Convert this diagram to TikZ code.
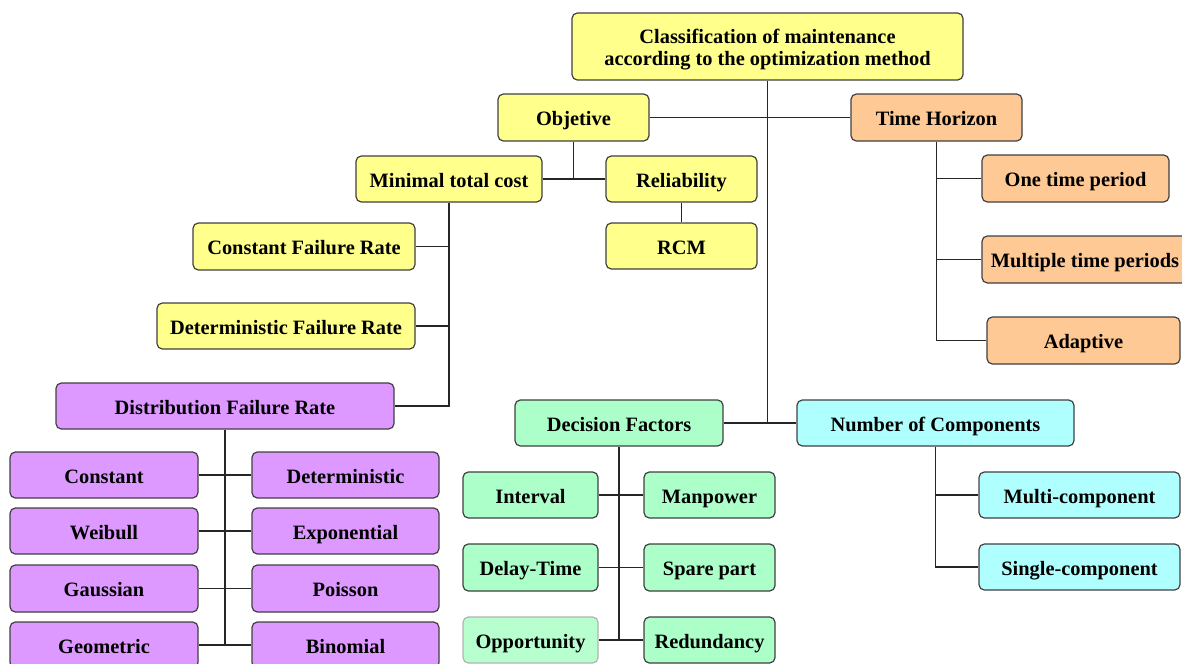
\documentclass[tikz,border=0pt]{standalone}
\usepackage{fontspec}
\setmainfont{Liberation Serif}
\newcommand\mybox[7]{%
 \pgfmathsetmacro\cx{(#2+#4)/2}\pgfmathsetmacro\cy{(#3+#5)/2}%
 \pgfmathsetmacro\ww{(#4-#2)*0.75}\pgfmathsetmacro\hh{(#5-#3)*0.75}%
 \node[#6, minimum width=\ww pt, minimum height=\hh pt] (#1) at (\cx,\cy) {#7};}
\definecolor{cyel}{RGB}{255,255,140}
\definecolor{corg}{RGB}{255,201,150}
\definecolor{cpur}{RGB}{221,153,255}
\definecolor{cgrn}{RGB}{172,255,200}
\definecolor{ccyn}{RGB}{176,255,255}
\definecolor{cbord}{RGB}{64,64,64}
\tikzset{
 basebox/.style={rectangle, rounded corners=4pt, draw=cbord, line width=0.9pt, inner sep=0pt, align=center,
   font=\fontsize{15.3}{16.5}\selectfont\bfseries},
 box/.style={basebox, text height=12.8pt, text depth=0.8pt},
 yel/.style={box, fill=cyel},
 rootbox/.style={basebox, fill=cyel},
 org/.style={box, fill=corg},
 pur/.style={box, fill=cpur},
 grn/.style={box, fill=cgrn},
 grnl/.style={box, fill=cgrn!85!white, draw=gray!60},
 cyn/.style={box, fill=ccyn},
 conn/.style={draw=black!85, line width=1.2pt},
}
\begin{document}
\begin{tikzpicture}[x=0.75pt, y=-0.75pt]
\useasboundingbox (0,0) rectangle (1182,664);
% nodes
\mybox{root}{572}{13}{963}{80}{rootbox}{\rule{0pt}{15pt}Classification of maintenance\\according to the optimization method}
\mybox{obj}{498}{94}{649}{141}{yel}{Objetive}
\mybox{th}{851}{94}{1022}{141}{org}{Time Horizon}
\mybox{mtc}{356}{156}{542}{202}{yel}{Minimal total cost}
\mybox{rel}{606}{156}{757}{202}{yel}{Reliability}
\mybox{rcm}{606}{223}{757}{269}{yel}{RCM}
\mybox{cfr}{193}{223}{415}{270}{yel}{Constant Failure Rate}
\mybox{detfr}{157}{303}{415}{349}{yel}{Deterministic Failure Rate}
\mybox{dfr}{56}{383}{394}{429}{pur}{Distribution Failure Rate}
\mybox{pconst}{10}{452}{198}{498}{pur}{Constant}
\mybox{pdet}{252}{452}{439}{498}{pur}{Deterministic}
\mybox{pweib}{10}{508}{198}{554}{pur}{Weibull}
\mybox{pexp}{252}{508}{439}{554}{pur}{Exponential}
\mybox{pgau}{10}{565}{198}{612}{pur}{Gaussian}
\mybox{ppois}{252}{565}{439}{612}{pur}{Poisson}
\mybox{pgeo}{10}{622}{198}{668}{pur}{Geometric}
\mybox{pbin}{252}{622}{439}{668}{pur}{Binomial}
\mybox{one}{982}{155}{1169}{202}{org}{One time period}
\mybox{mult}{982}{236}{1188}{283}{org}{Multiple time periods}
\mybox{adap}{987}{317}{1180}{364}{org}{Adaptive}
\mybox{dec}{515}{400}{723}{446}{grn}{Decision Factors}
\mybox{num}{797}{400}{1074}{446}{cyn}{Number of Components}
\mybox{gint}{463}{472}{598}{518}{grn}{Interval}
\mybox{gman}{644}{472}{775}{518}{grn}{Manpower}
\mybox{gdel}{463}{544}{598}{591}{grn}{Delay-Time}
\mybox{gspa}{644}{544}{775}{591}{grn}{Spare part}
\mybox{gopp}{463}{617}{598}{663}{grnl}{Opportunity}
\mybox{gred}{644}{617}{775}{663}{grn}{Redundancy}
\mybox{cmul}{979}{472}{1180}{518}{cyn}{Multi-component}
\mybox{csin}{979}{544}{1180}{590}{cyn}{Single-component}
% connectors
\draw[conn] (root.south) -- (root.south |- num.west);
\draw[conn] (dec.east) -- (num.west);
\draw[conn] (obj.east) -- (th.west);
\draw[conn] (obj.south) -- (obj.south |- mtc.east);
\draw[conn] (mtc.east) -- (rel.west);
\draw[conn] (rel.south) -- (rcm.north);
\draw[conn] (mtc.south) -- (mtc.south |- dfr.east) -- (dfr.east);
\draw[conn] (cfr.east) -- (cfr.east -| mtc.south);
\draw[conn] (detfr.east) -- (detfr.east -| mtc.south);
\draw[conn] (dfr.south) -- (dfr.south |- pgeo.east);
\draw[conn] (pconst.east) -- (pdet.west);
\draw[conn] (pweib.east) -- (pexp.west);
\draw[conn] (pgau.east) -- (ppois.west);
\draw[conn] (pgeo.east) -- (pbin.west);
\draw[conn] (th.south) -- (th.south |- adap.west) -- (adap.west);
\draw[conn] (one.west) -- (one.west -| th.south);
\draw[conn] (mult.west) -- (mult.west -| th.south);
\draw[conn] (dec.south) -- (dec.south |- gred.west);
\draw[conn] (gint.east) -- (gman.west);
\draw[conn] (gdel.east) -- (gspa.west);
\draw[conn] (gopp.east) -- (gred.west);
\draw[conn] (num.south) -- (num.south |- csin.west) -- (csin.west);
\draw[conn] (cmul.west) -- (cmul.west -| num.south);
\end{tikzpicture}
\end{document}
